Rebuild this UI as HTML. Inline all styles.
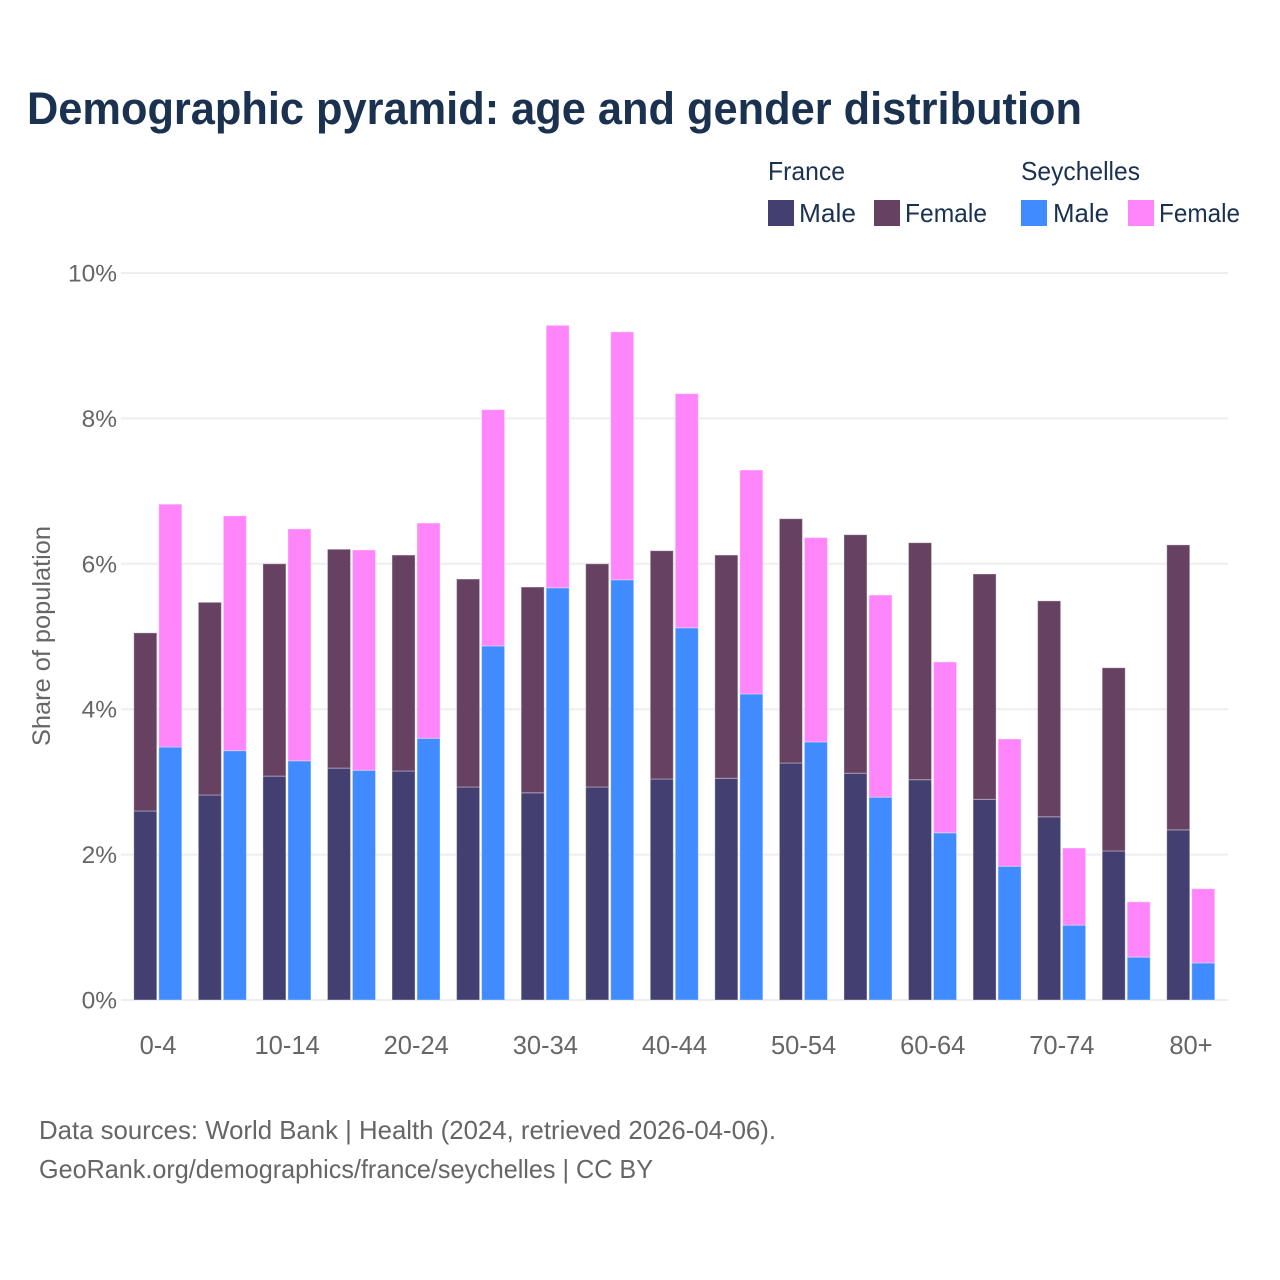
<!DOCTYPE html>
<html lang="en">
<head>
<meta charset="utf-8">
<title>Demographic pyramid</title>
<style>
html,body{margin:0;padding:0;background:#fff;width:1280px;height:1280px;overflow:hidden}
svg{display:block}
text{font-family:"Liberation Sans",sans-serif}
</style>
</head>
<body>
<svg id="chart" width="1280" height="1280" viewBox="0 0 1280 1280" xmlns="http://www.w3.org/2000/svg">
<rect width="1280" height="1280" fill="#fff"/>
<text x="27" y="124" font-size="45" font-weight="700" fill="#1a3150" textLength="1055" lengthAdjust="spacingAndGlyphs">Demographic pyramid: age and gender distribution</text>
<g id="grid"></g>
<g id="bars"></g>
<g id="yticks"></g>
<g id="xticks"></g>
<text transform="translate(50,636) rotate(-90)" text-anchor="middle" font-size="25" fill="#666" textLength="220" lengthAdjust="spacingAndGlyphs">Share of population</text>
<g font-size="26" fill="#1a3150">
<text x="768" y="180" textLength="77" lengthAdjust="spacingAndGlyphs">France</text>
<text x="1021" y="180" textLength="119" lengthAdjust="spacingAndGlyphs">Seychelles</text>
<rect x="768" y="200" width="26" height="26" fill="#433f70"/>
<text x="799" y="222" textLength="57" lengthAdjust="spacingAndGlyphs">Male</text>
<rect x="874" y="200" width="26" height="26" fill="#664162"/>
<text x="905" y="222" textLength="82" lengthAdjust="spacingAndGlyphs">Female</text>
<rect x="1021" y="200" width="26" height="26" fill="#3f8bff"/>
<text x="1053" y="222" textLength="56" lengthAdjust="spacingAndGlyphs">Male</text>
<rect x="1128" y="200" width="26" height="26" fill="#ff85fb"/>
<text x="1159" y="222" textLength="81" lengthAdjust="spacingAndGlyphs">Female</text>
</g>
<text x="39" y="1139" font-size="26" fill="#666" textLength="737" lengthAdjust="spacingAndGlyphs">Data sources: World Bank | Health (2024, retrieved 2026-04-06).</text>
<text x="39" y="1178" font-size="26" fill="#666" textLength="614" lengthAdjust="spacingAndGlyphs">GeoRank.org/demographics/france/seychelles | CC BY</text>
</svg>
<script>
const categories = ['0-4','5-9','10-14','15-19','20-24','25-29','30-34','35-39','40-44','45-49','50-54','55-59','60-64','65-69','70-74','75-79','80+'];
const shownCategories = ['0-4','10-14','20-24','30-34','40-44','50-54','60-64','70-74','80+'];
const franceMale = [2.60,2.82,3.08,3.19,3.15,2.93,2.85,2.93,3.04,3.05,3.26,3.12,3.03,2.76,2.52,2.05,2.34];
const franceFemale = [2.45,2.65,2.92,3.01,2.97,2.86,2.83,3.07,3.14,3.07,3.36,3.28,3.26,3.10,2.97,2.52,3.92];
const seychellesMale = [3.48,3.43,3.29,3.16,3.60,4.87,5.67,5.78,5.12,4.21,3.55,2.79,2.30,1.84,1.03,0.59,0.51];
const seychellesFemale = [3.34,3.23,3.19,3.03,2.96,3.25,3.61,3.41,3.22,3.08,2.81,2.78,2.35,1.75,1.06,0.76,1.02];
const yTicks = [0,2,4,6,8,10];

const NS = 'http://www.w3.org/2000/svg';
const yScale = v => 1000 - v * 72.7;
const xCenter = i => 158 + i * 64.56;
const barW = 23;
const barGap = 2;

function make(tag, attrs, parent) {
  const el = document.createElementNS(NS, tag);
  for (const k in attrs) el.setAttribute(k, attrs[k]);
  parent.appendChild(el);
  return el;
}

const grid = document.getElementById('grid');
const yG = document.getElementById('yticks');
yTicks.forEach(t => {
  const line = make('line', {x1:121, x2:1228, y1:yScale(t), y2:yScale(t), stroke:'#eeeeee', 'stroke-width':2}, grid);
  
  
  const label = make('text', {x:117, y:yScale(t) + 8.5, 'text-anchor':'end', 'font-size':24.5, fill:'#666'}, yG);
  label.textContent = t + '%';
  
  
});

const barsG = document.getElementById('bars');
function drawStack(i, left, base, top, baseColor, topColor, country) {
  const b0 = yScale(base);
  const b1 = yScale(base + top);
  const lower = make('rect', {x:left, y:b0, width:barW, height:1000 - b0, fill:baseColor, stroke:'rgba(255,255,255,0.35)', 'stroke-width':1}, barsG);
  
  
  const upper = make('rect', {x:left, y:b1, width:barW, height:b0 - b1, fill:topColor, stroke:'rgba(255,255,255,0.35)', 'stroke-width':1}, barsG);
  
  
}
categories.forEach((c, i) => {
  const cx = xCenter(i);
  drawStack(i, cx - barW - barGap / 2 - 0.2, franceMale[i], franceFemale[i], '#433f70', '#664162', 'france');
  drawStack(i, cx + barGap / 2 - 0.2, seychellesMale[i], seychellesFemale[i], '#3f8bff', '#ff85fb', 'seychelles');
});

const xG = document.getElementById('xticks');
shownCategories.forEach(c => {
  const label = make('text', {x:xCenter(categories.indexOf(c)), y:1054, 'text-anchor':'middle', 'font-size':25.5, fill:'#666'}, xG);
  label.textContent = c;
  
  
});
</script>
</body>
</html>
